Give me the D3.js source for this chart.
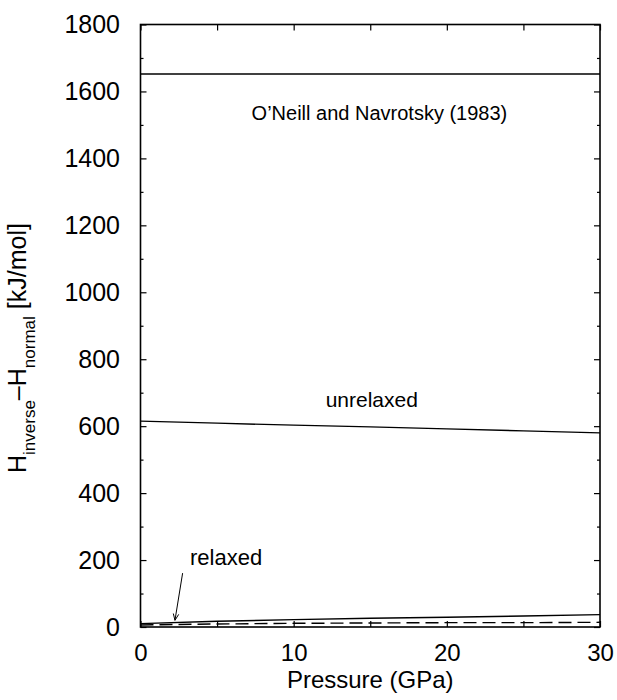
<!DOCTYPE html>
<html>
<head>
<meta charset="utf-8">
<script src="https://cdn.jsdelivr.net/npm/d3@7"></script>
<style>
  body { margin: 0; background: #fff; }
  svg { display: block; font-family: "Liberation Sans", Arial, Helvetica, sans-serif; }
  .axis path { display: none; }
  .axis line { stroke: #000; stroke-width: 1.2; }
  .axis text { fill: #000; font-size: 25px; }
  .x.axis text { font-size: 24px; }
</style>
</head>
<body>
<svg id="chart"></svg>
<script>
// pressure grid (GPa)
const pressure = [0, 5, 10, 15, 20, 25, 30];
// H_inverse - H_normal (kJ/mol)
const oNeill = [1652, 1652, 1652, 1652, 1652, 1652, 1652];
const unrelaxed = [615, 609, 603, 598, 592, 586, 580];
const relaxedSolid = [10, 17, 22, 26, 29, 33, 37];
const relaxedDashed = [6, 9, 11, 12, 13, 13, 14];

const xTicks = [0, 10, 20, 30];
const xMinorTicks = [5, 15, 25];
const yTicks = [0, 200, 400, 600, 800, 1000, 1200, 1400, 1600, 1800];
const yMinorTicks = [100, 300, 500, 700, 900, 1100, 1300, 1500, 1700];

const margin = { top: 24.5, right: 17, bottom: 73, left: 140.5 },
  width = 617 - margin.left - margin.right,
  height = 700 - margin.top - margin.bottom;

const svg = d3.select('#chart')
  .attr('width', 617)
  .attr('height', 700);

const g = svg.append('g')
  .attr('transform', 'translate(' + margin.left + ',' + margin.top + ')');

const x = d3.scaleLinear().domain([0, 30]).range([0, width]);
const y = d3.scaleLinear().domain([0, 1800]).range([height, 0]);

// axes, ticks pointing inwards on all four sides
g.append('g').attr('class', 'x axis')
  .attr('transform', 'translate(0,' + height + ')')
  .call(d3.axisBottom(x).tickValues(xTicks).tickSize(-6).tickPadding(17).tickFormat(d3.format('d')));
g.append('g').attr('class', 'axis')
  .attr('transform', 'translate(0,' + height + ')')
  .call(d3.axisBottom(x).tickValues(xMinorTicks).tickSize(-6).tickFormat(''));
g.append('g').attr('class', 'axis')
  .call(d3.axisTop(x).tickValues(xTicks.concat(xMinorTicks)).tickSize(-6).tickFormat(''));

g.append('g').attr('class', 'y axis')
  .call(d3.axisLeft(y).tickValues(yTicks).tickSize(-6).tickPadding(20.5).tickFormat(d3.format('d')));
g.append('g').attr('class', 'axis')
  .call(d3.axisLeft(y).tickValues(yMinorTicks).tickSize(-3).tickFormat(''));
g.append('g').attr('class', 'axis')
  .attr('transform', 'translate(' + width + ',0)')
  .call(d3.axisRight(y).tickValues(yTicks).tickSize(-6).tickFormat(''));
g.append('g').attr('class', 'axis')
  .attr('transform', 'translate(' + width + ',0)')
  .call(d3.axisRight(y).tickValues(yMinorTicks).tickSize(-3).tickFormat(''));

// frame
g.append('rect')
  .attr('width', width)
  .attr('height', height)
  .attr('fill', 'none')
  .attr('stroke', '#000')
  .attr('stroke-width', 1.6);

const line = d3.line()
  .x((d, i) => x(pressure[i]))
  .y(d => y(d));

function drawLine(values, dash) {
  g.append('path')
    .datum(values)
    .attr('fill', 'none')
    .attr('stroke', '#000')
    .attr('stroke-width', 1.4)
    .attr('stroke-dasharray', dash || null)
    .attr('d', line);
}

drawLine(oNeill);
drawLine(unrelaxed);
drawLine(relaxedSolid);
drawLine(relaxedDashed, '13,6');

// annotations
g.append('text')
  .attr('x', x(15.6)).attr('y', y(1515))
  .attr('text-anchor', 'middle')
  .style('font-size', '20px')
  .text('O\u2019Neill and Navrotsky (1983)');

g.append('text')
  .attr('x', x(15.1)).attr('y', y(657))
  .attr('text-anchor', 'middle')
  .style('font-size', '21px')
  .text('unrelaxed');

g.append('text')
  .attr('x', x(3.23)).attr('y', y(185))
  .style('font-size', '22px')
  .text('relaxed');

// arrow pointing at the relaxed curves
const ax0 = x(2.75), ay0 = y(161), ax1 = x(2.25), ay1 = y(20);
g.append('line')
  .attr('x1', ax0).attr('y1', ay0)
  .attr('x2', ax1).attr('y2', ay1)
  .attr('stroke', '#000').attr('stroke-width', 1);
const ang = Math.atan2(ay1 - ay0, ax1 - ax0);
[0.4, -0.4].forEach(function(a) {
  g.append('line')
    .attr('x1', ax1).attr('y1', ay1)
    .attr('x2', ax1 - 7 * Math.cos(ang + a)).attr('y2', ay1 - 7 * Math.sin(ang + a))
    .attr('stroke', '#000').attr('stroke-width', 1);
});

// axis titles
svg.append('text')
  .attr('x', margin.left + width / 2)
  .attr('y', 688)
  .attr('text-anchor', 'middle')
  .style('font-size', '24px')
  .text('Pressure (GPa)');

const yt = svg.append('text')
  .attr('transform', 'translate(26,473) rotate(-90)')
  .attr('text-anchor', 'start')
  .style('font-size', '25px');
yt.append('tspan').text('H');
yt.append('tspan').attr('dy', 9).style('font-size', '17px').text('inverse');
yt.append('tspan').attr('dy', -9).text('\u2013H');
yt.append('tspan').attr('dy', 9).style('font-size', '17px').text('normal');
yt.append('tspan').attr('dy', -9).text(' [kJ/mol]');
</script>
</body>
</html>
